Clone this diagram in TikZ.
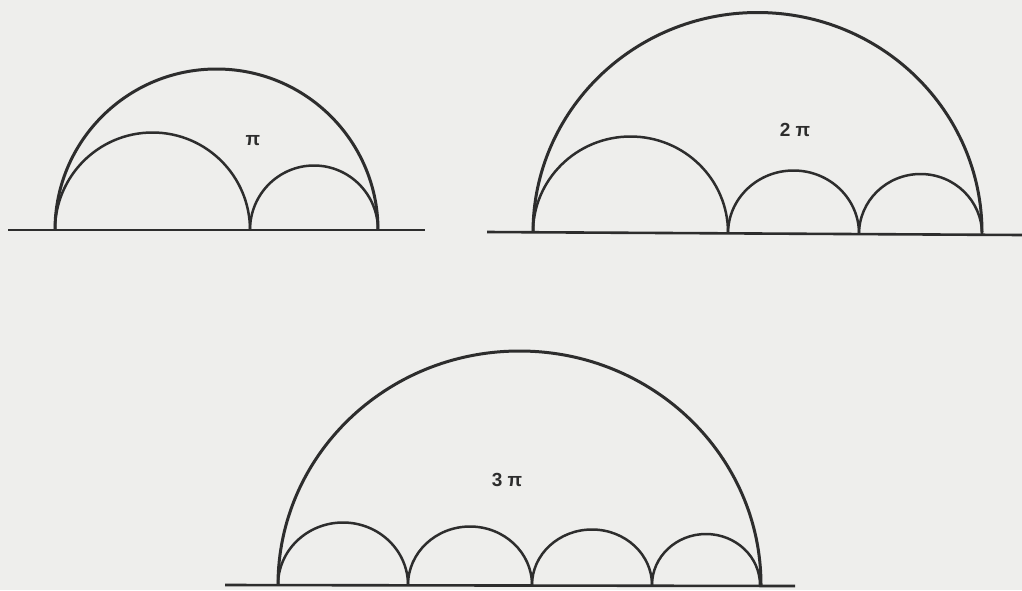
\documentclass[tikz,border=0pt]{standalone}
\usepackage{fontspec}
\setmainfont{Liberation Sans}
\definecolor{paper}{RGB}{238,238,236}
\definecolor{ink}{RGB}{45,45,45}
\tikzset{
  bigarc/.style={draw=ink, line width=3pt},
  smallarc/.style={draw=ink, line width=2.5pt},
  ground/.style={draw=ink, line width=2.6pt},
  lbl/.style={text=ink, font=\fontsize{19}{19}\selectfont\bfseries, inner sep=0pt}
}
\begin{document}
\begin{tikzpicture}[x=1pt,y=-1pt]
\fill[paper] (0,0) rectangle (1022,590);
\useasboundingbox (0,0) rectangle (1022,590);
% ---------- diagram 1 ----------
\draw[ground] (8,230) -- (425,230);
\draw[bigarc] (55,230) arc[start angle=180,end angle=360,x radius=161.5,y radius=161];
\draw[smallarc] (55,230) arc[start angle=180,end angle=360,x radius=97.5,y radius=97.5];
\draw[smallarc] (250,230) arc[start angle=180,end angle=360,x radius=64,y radius=64.5];
\node[lbl] (p1) at (253,141) {π};
% ---------- diagram 2 ----------
\draw[ground] (487,232) -- (1022,235);
\draw[bigarc] (533,232.5) arc[start angle=180,end angle=360,x radius=224.5,y radius=220];
\draw[smallarc] (533,232.5) arc[start angle=180,end angle=360,x radius=97.5,y radius=96];
\draw[smallarc] (728,233.5) arc[start angle=180,end angle=360,x radius=65.5,y radius=63];
\draw[smallarc] (859,234) arc[start angle=180,end angle=360,x radius=61.5,y radius=60];
\node[lbl] (p2) at (795,130) {2 π};
% ---------- diagram 3 ----------
\draw[ground] (225,585) -- (795,586);
\draw[bigarc] (278,585) arc[start angle=180,end angle=360,x radius=241.5,y radius=234];
\draw[smallarc] (278,585) arc[start angle=180,end angle=360,x radius=65,y radius=62.5];
\draw[smallarc] (408,585) arc[start angle=180,end angle=360,x radius=62,y radius=58.5];
\draw[smallarc] (532,585) arc[start angle=180,end angle=360,x radius=60,y radius=55.5];
\draw[smallarc] (652,585) arc[start angle=180,end angle=360,x radius=54,y radius=51];
\node[lbl] (p3) at (507,480) {3 π};
\end{tikzpicture}
\end{document}
